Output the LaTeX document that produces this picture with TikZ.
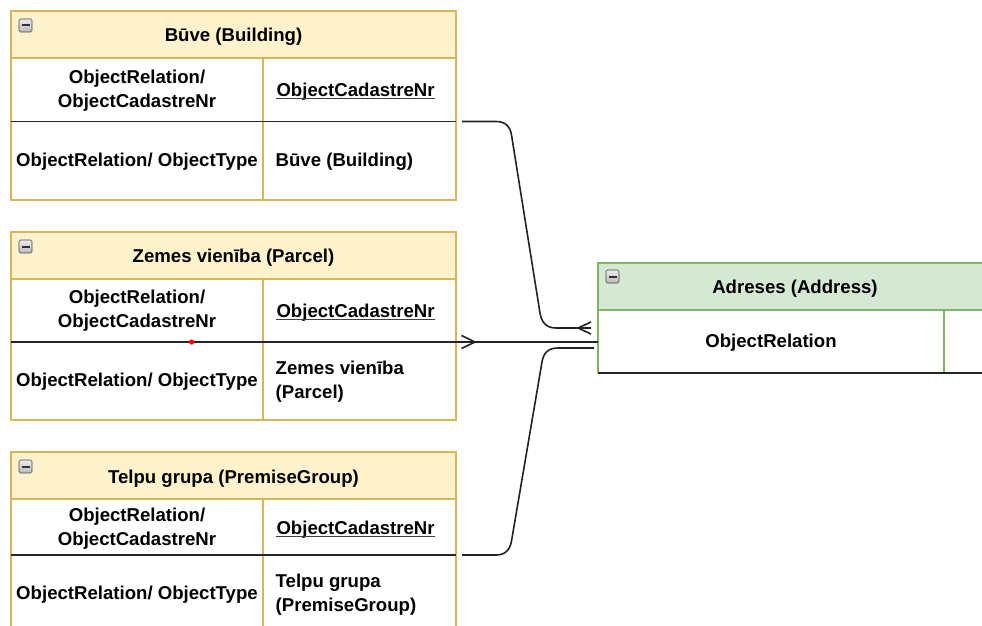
\documentclass[tikz,border=0pt]{standalone}
\usepackage{fontspec}
\setmainfont{Liberation Sans}
\definecolor{yfill}{HTML}{FFF2CC}
\definecolor{ydraw}{HTML}{D6B656}
\definecolor{gfill}{HTML}{D5E8D4}
\definecolor{gdraw}{HTML}{82B366}
\definecolor{edgecol}{HTML}{222222}
\newcommand\ulcad[1]{\tikz[baseline=(u.base)]{\node[inner sep=0pt] (u) {#1};\draw[line width=1.2pt, black!75] ([yshift=-2pt]u.base west) -- ([yshift=-2pt]u.base east);}}
\begin{document}
\begin{tikzpicture}[x=1pt,y=-1pt,
  txt/.style={font=\bfseries\fontsize{18.6}{23.5}\selectfont, inner sep=0pt, align=center},
  ltxt/.style={txt, anchor=west, align=left},
  ybord/.style={draw=ydraw, line width=1.5pt},
  gbord/.style={draw=gdraw, line width=1.5pt},
  rowline/.style={draw=black!85, line width=1.8pt},
  conn/.style={draw=edgecol, line width=1.6pt},
  minusicon/.pic={
    \draw[rounded corners=1.5pt, draw=gray!55!black, line width=0.6pt, top color=gray!15, bottom color=gray!55] (0,0) rectangle (13,13);
    \draw[line width=2pt, black!80] (2.5,6.5) -- (10.5,6.5);
  }]
\useasboundingbox (0,0) rectangle (982,626);
\clip (0,0) rectangle (982,626);
\fill[white] (0,0) rectangle (982,626);

% ---------- Table 1: Buve ----------
\fill[yfill] (11,11) rectangle (456,58);
\draw[ybord] (11,11) rectangle (456,200);
\draw[ybord] (11,58) -- (456,58);
\draw[ybord] (263,58) -- (263,200);
\draw[rowline] (11,121.5) -- (456,121.5);
\pic at (19,19) {minusicon};
\node[txt] (t1h) at (233.5,36.5) {Būve (Building)};
\node[txt] (t1a) at (137,90.5) {ObjectRelation/\\ObjectCadastreNr};
\node[ltxt] (t1b) at (275.5,91.5) {\ulcad{ObjectCadastreNr}};
\node[txt] (t1c) at (137,161.5) {ObjectRelation/ ObjectType};
\node[ltxt] (t1d) at (275.5,161.5) {Būve (Building)};

% ---------- Table 2: Zemes vieniba ----------
\fill[yfill] (11,232) rectangle (456,279);
\draw[ybord] (11,232) rectangle (456,420);
\draw[ybord] (11,279) -- (456,279);
\draw[ybord] (263,279) -- (263,420);
\draw[rowline] (11,342) -- (456,342);
\pic at (19,240) {minusicon};
\node[txt] (t2h) at (233.5,257.5) {Zemes vienība (Parcel)};
\node[txt] (t2a) at (137,310.5) {ObjectRelation/\\ObjectCadastreNr};
\node[ltxt] (t2b) at (275.5,312.5) {\ulcad{ObjectCadastreNr}};
\node[txt] (t2c) at (137,381.5) {ObjectRelation/ ObjectType};
\node[ltxt] (t2d) at (275.5,381.5) {Zemes vienība\\(Parcel)};
\fill[red] (191.5,342) circle (2.6);

% ---------- Table 3: Telpu grupa ----------
\fill[yfill] (11,452) rectangle (456,499);
\draw[ybord] (11,452) rectangle (456,660);
\draw[ybord] (11,499) -- (456,499);
\draw[ybord] (263,499) -- (263,660);
\draw[rowline] (11,555) -- (456,555);
\pic at (19,460) {minusicon};
\node[txt] (t3h) at (233.5,478.5) {Telpu grupa (PremiseGroup)};
\node[txt] (t3a) at (137,528.5) {ObjectRelation/\\ObjectCadastreNr};
\node[ltxt] (t3b) at (275.5,529.5) {\ulcad{ObjectCadastreNr}};
\node[txt] (t3c) at (137,594.5) {ObjectRelation/ ObjectType};
\node[ltxt] (t3d) at (275.5,594.5) {Telpu grupa\\(PremiseGroup)};

% ---------- Address ----------
\fill[gfill] (598,263) rectangle (995,310);
\draw[gbord] (598,373) -- (598,263) -- (995,263);
\draw[gbord] (598,310) -- (995,310);
\draw[gbord] (944,310) -- (944,373);
\draw[rowline] (598,373) -- (995,373);
\pic at (606,270) {minusicon};
\node[txt] (ah) at (795,288.5) {Adreses (Address)};
\node[txt] (ar) at (771,342.5) {ObjectRelation};

% ---------- Connectors ----------
\coordinate (s1) at (462,121.5);
\coordinate (e1) at (591,328);
\coordinate (v1) at (578,328);
\coordinate (s2) at (456,342);
\coordinate (e2) at (598,342);
\coordinate (v2) at (475,342);
\coordinate (s3) at (462,555);
\coordinate (e3) at (594,348);

\draw[conn] (s1) -- (496,121.5) .. controls (505,121.5) and (510,126) .. (511.5,135)
  -- (540,313) .. controls (541.5,322) and (546,328) .. (556,328) -- (e1);
\draw[conn] (v1) -- (591,322) (v1) -- (591,334);

\draw[conn] (s2) -- (e2);
\draw[conn] (v2) -- (461.5,335.5) (v2) -- (461.5,348.5);

\draw[conn] (s3) -- (496,555) .. controls (505,555) and (510,550) .. (511.5,541)
  -- (542,362) .. controls (543.5,353) and (548,348) .. (558,348) -- (e3);
\end{tikzpicture}
\end{document}
